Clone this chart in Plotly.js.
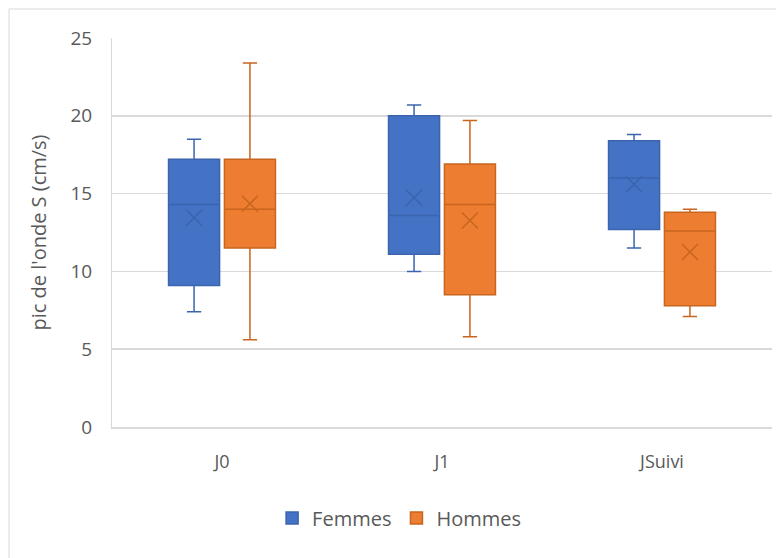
<!DOCTYPE html>
<html>
<head>
<meta charset="utf-8">
<script src="https://cdn.plot.ly/plotly-3.0.1.min.js"></script>
<style>html,body{margin:0;padding:0;background:#fff;}#chart{width:776px;height:558px;}</style>
</head>
<body>
<div id="chart"></div>
<script>
// Categories and series statistics
const categories = ["J0", "J1", "JSuivi"];
const seriesNames = ["Femmes", "Hommes"];

const femmesMin    = [7.4, 10.0, 11.5];
const femmesQ1     = [9.1, 11.1, 12.7];
const femmesMedian = [14.3, 13.6, 16.0];
const femmesQ3     = [17.2, 20.0, 18.4];
const femmesMax    = [18.5, 20.7, 18.8];
const femmesMean   = [13.45, 14.73, 15.6];

const hommesMin    = [5.6, 5.8, 7.1];
const hommesQ1     = [11.5, 8.5, 7.8];
const hommesMedian = [14.0, 14.3, 12.6];
const hommesQ3     = [17.2, 16.9, 13.8];
const hommesMax    = [23.4, 19.7, 14.0];
const hommesMean   = [14.35, 13.27, 11.25];

const fillColors = ["#4472C4", "#ED7D31"];
const lineColors = ["#3A64AE", "#C8651F"];

const boxWidth = 0.232;
const groupOffset = 0.127;
const idx = categories.map((c, i) => i);

function boxTrace(k, mins, q1, med, q3, maxs) {
  const off = (k === 0 ? -1 : 1) * groupOffset;
  return {
    type: "box",
    name: seriesNames[k],
    x: idx.map(i => i + off),
    lowerfence: mins, q1: q1, median: med, q3: q3, upperfence: maxs,
    width: boxWidth,
    whiskerwidth: 0.28,
    fillcolor: fillColors[k],
    line: {color: lineColors[k], width: 1.5},
    boxpoints: false,
    hoverinfo: "skip",
    showlegend: true
  };
}
function meanTrace(k, means) {
  const off = (k === 0 ? -1 : 1) * groupOffset;
  return {
    type: "scatter", mode: "markers",
    x: idx.map(i => i + off), y: means,
    marker: {symbol: "x-thin-open", size: 16, line: {color: lineColors[k], width: 1.5}, color: lineColors[k]},
    showlegend: false, hoverinfo: "skip"
  };
}

const data = [
  boxTrace(0, femmesMin, femmesQ1, femmesMedian, femmesQ3, femmesMax),
  boxTrace(1, hommesMin, hommesQ1, hommesMedian, hommesQ3, hommesMax),
  meanTrace(0, femmesMean),
  meanTrace(1, hommesMean)
];

const font = "'Open Sans', 'Liberation Sans', sans-serif";
const layout = {
  width: 776, height: 558,
  margin: {l: 112, r: 4, t: 38, b: 131},
  paper_bgcolor: "#ffffff", plot_bgcolor: "#ffffff",
  font: {family: font, color: "#595959", size: 19},
  showlegend: true,
  legend: {orientation: "h", x: 0.435, xanchor: "center", y: -0.234, yanchor: "middle",
           font: {family: font, size: 20, color: "#595959"}, itemwidth: 30, traceorder: "normal"},
  hovermode: false,
  xaxis: {
    range: [-0.5, 2.5], tickvals: idx, ticktext: categories,
    showgrid: false, zeroline: false, showline: true, linecolor: "#d9d9d9", linewidth: 1.5,
    ticks: "", tickfont: {family: font, size: 18, color: "#595959"}, ticklabelstandoff: 18,
    fixedrange: true
  },
  yaxis: {
    range: [0, 25], dtick: 5, tick0: 0,
    showgrid: true, gridcolor: "#d9d9d9", gridwidth: 1.5,
    zeroline: false, showline: true, linecolor: "#d9d9d9", linewidth: 1,
    ticks: "", tickfont: {family: font, size: 19, color: "#595959"}, ticklabelstandoff: 15,
    title: {text: "pic de l'onde S (cm/s)", font: {family: font, size: 20, color: "#595959"}, standoff: 18},
    fixedrange: true
  },
  shapes: [
    {type: "line", xref: "paper", yref: "paper", x0: -0.156, x1: 1.02, y0: 1.0746, y1: 1.0746,
     line: {color: "#d9d9d9", width: 1}},
    {type: "line", xref: "paper", yref: "paper", x0: -0.156, x1: -0.156, y0: 1.0746, y1: -0.35,
     line: {color: "#d9d9d9", width: 1}}
  ]
};

Plotly.newPlot("chart", data, layout, {displayModeBar: false, staticPlot: true});
</script>
</body>
</html>
